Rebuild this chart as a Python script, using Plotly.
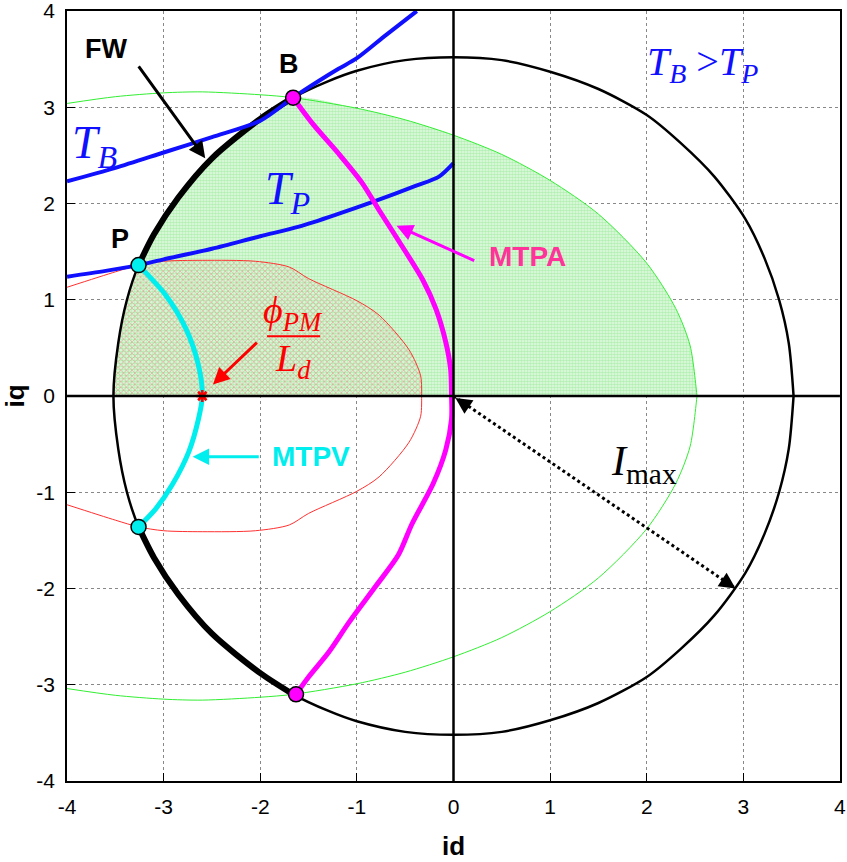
import plotly.graph_objects as go

# ---- data (id, iq in per-unit current) ----
# current-limit circle |I| = Imax, upper half from left to right
circle_id = [-3.52, -3.47, -3.38, -3.26, -3.10, -2.85, -2.50, -2.00, -1.66, -1.30, -1.00, -0.50,
             0.00, 0.50, 1.00, 1.50, 2.00, 2.35, 2.70, 3.02, 3.22, 3.37, 3.47, 3.52]
circle_iq = [0.00, 0.55, 1.00, 1.36, 1.68, 2.06, 2.47, 2.88, 3.10, 3.27, 3.38, 3.49,
             3.52, 3.49, 3.37, 3.19, 2.92, 2.63, 2.28, 1.84, 1.43, 1.00, 0.55, 0.00]

# voltage-limit ellipse at base speed (through B), upper half
volt_b_id = [-4.00, -3.50, -3.00, -2.60, -2.00, -1.66, -1.00, -0.50, 0.00, 0.50, 1.00, 1.50,
             2.00, 2.30, 2.45, 2.52]
volt_b_iq = [3.04, 3.11, 3.15, 3.16, 3.13, 3.10, 2.99, 2.87, 2.71, 2.51, 2.24, 1.89,
             1.38, 0.91, 0.52, 0.00]

# voltage-limit ellipse at the higher speed (through P), upper half
volt_p_id = [-4.00, -3.50, -3.26, -3.00, -2.60, -2.05, -1.70, -1.50, -1.00, -0.77, -0.46, -0.34, -0.33]
volt_p_iq = [1.13, 1.29, 1.36, 1.40, 1.41, 1.40, 1.34, 1.22, 0.99, 0.84, 0.48, 0.21, 0.00]

# constant-torque hyperbolas
tb_id = [-4.00, -3.50, -3.00, -2.50, -2.00, -1.66, -1.40, -1.19, -1.00, -0.70, -0.38]
tb_iq = [2.23, 2.37, 2.53, 2.69, 2.86, 3.10, 3.27, 3.40, 3.51, 3.75, 4.00]
tp_id = [-4.00, -3.60, -3.26, -3.00, -2.50, -2.00, -1.60, -1.20, -0.80, -0.40, -0.15, 0.00]
tp_iq = [1.24, 1.30, 1.36, 1.42, 1.53, 1.66, 1.76, 1.89, 2.03, 2.18, 2.28, 2.42]

# maximum torque per ampere (B -> origin -> lower limit)
mtpa_id = [-1.66, -1.45, -1.19, -0.95, -0.77, -0.56, -0.32, -0.18, -0.08, -0.03, -0.02, -0.02,
           -0.08, -0.21, -0.43, -0.57, -0.80, -1.08, -1.29, -1.50, -1.63]
mtpa_iq = [3.10, 2.82, 2.52, 2.22, 1.93, 1.60, 1.21, 0.90, 0.56, 0.28, 0.00, -0.24,
           -0.56, -0.91, -1.33, -1.65, -1.97, -2.35, -2.66, -2.92, -3.10]

# maximum torque per volt (P -> -phi/Ld -> lower limit)
mtpv_id = [-3.26, -2.98, -2.77, -2.64, -2.60, -2.64, -2.74, -2.91, -3.08, -3.26]
mtpv_iq = [1.36, 1.05, 0.70, 0.32, 0.00, -0.24, -0.58, -0.92, -1.17, -1.36]

# ellipse centre  -phi_PM / Ld
center_id = [-2.60]
center_iq = [0.00]

# end of the Imax radius arrow
imax_end = (2.92, -2.00)

tick_vals = [-4, -3, -2, -1, 0, 1, 2, 3, 4]
tick_text = ["-4", "-3", "-2", "-1", "0", "1", "2", "3", "4"]


def full_curve(xs, ys):
    """Close a symmetric curve given by its upper half."""
    return list(xs) + list(xs[::-1]), list(ys) + [-v for v in ys[::-1]]


P_ID, P_IQ = mtpv_id[0], mtpv_iq[0]
B_ID, B_IQ = mtpa_id[0], mtpa_iq[0]

# flux-weakening arc along the current limit between P and B
fw_idx = [i for i, x in enumerate(circle_id) if P_ID - 1e-6 <= x <= B_ID + 1e-6]
fw_id = [circle_id[i] for i in fw_idx]
fw_iq = [circle_iq[i] for i in fw_idx]

# shaded regions (iq >= 0)
g_id = [x for x in circle_id if x <= B_ID] + [x for x in volt_b_id if x > B_ID]
g_iq = [circle_iq[i] for i, x in enumerate(circle_id) if x <= B_ID] + \
       [volt_b_iq[i] for i, x in enumerate(volt_b_id) if x > B_ID]
r_id = [x for x in circle_id if x <= P_ID] + [x for x in volt_p_id if x > P_ID]
r_iq = [circle_iq[i] for i, x in enumerate(circle_id) if x <= P_ID] + \
       [volt_p_iq[i] for i, x in enumerate(volt_p_id) if x > P_ID]

SPL = dict(shape="spline", smoothing=0.8)

fig = go.Figure()

fig.add_trace(go.Scatter(
    x=g_id, y=g_iq, mode="lines", line=dict(width=0, **SPL), fill="toself",
    fillcolor="rgba(0,0,0,0)",
    fillpattern=dict(shape=".", fgcolor="#7fe47f", bgcolor="rgba(230,250,230,1)", size=3, solidity=0.6),
    hoverinfo="skip"))
fig.add_trace(go.Scatter(
    x=r_id, y=r_iq, mode="lines", line=dict(width=0, **SPL), fill="toself",
    fillcolor="rgba(0,0,0,0)",
    fillpattern=dict(shape="x", fgcolor="#ee8080", bgcolor="rgba(0,0,0,0)", size=4, solidity=0.4),
    hoverinfo="skip"))

vb_x, vb_y = full_curve(volt_b_id, volt_b_iq)
fig.add_trace(go.Scatter(x=vb_x, y=vb_y, mode="lines", line=dict(color="#33ee33", width=1, **SPL)))
vp_x, vp_y = full_curve(volt_p_id, volt_p_iq)
fig.add_trace(go.Scatter(x=vp_x, y=vp_y, mode="lines", line=dict(color="#ff3030", width=1, **SPL)))

c_x, c_y = full_curve(circle_id, circle_iq)
fig.add_trace(go.Scatter(x=c_x, y=c_y, mode="lines", line=dict(color="black", width=2.5, **SPL)))

fig.add_trace(go.Scatter(x=fw_id, y=fw_iq, mode="lines", line=dict(color="black", width=6, **SPL)))
fig.add_trace(go.Scatter(x=fw_id, y=[-v for v in fw_iq], mode="lines",
                         line=dict(color="black", width=6, **SPL)))

fig.add_trace(go.Scatter(x=tb_id, y=tb_iq, mode="lines", line=dict(color="#1010ff", width=4, **SPL)))
fig.add_trace(go.Scatter(x=tp_id, y=tp_iq, mode="lines", line=dict(color="#1010ff", width=4, **SPL)))

fig.add_trace(go.Scatter(x=mtpa_id, y=mtpa_iq, mode="lines",
                         line=dict(color="#ff00ff", width=5, **SPL)))
fig.add_trace(go.Scatter(x=mtpv_id, y=mtpv_iq, mode="lines",
                         line=dict(color="#00eeee", width=5, **SPL)))

fig.add_trace(go.Scatter(x=[0, imax_end[0]], y=[0, imax_end[1]], mode="lines",
                         line=dict(color="black", width=3, dash="dot")))

fig.add_trace(go.Scatter(
    x=[mtpa_id[0], mtpa_id[-1]], y=[mtpa_iq[0], mtpa_iq[-1]], mode="markers",
    marker=dict(color="#ff00ff", size=15, line=dict(color="black", width=1.5))))
fig.add_trace(go.Scatter(
    x=[mtpv_id[0], mtpv_id[-1]], y=[mtpv_iq[0], mtpv_iq[-1]], mode="markers",
    marker=dict(color="#00eeee", size=15, line=dict(color="black", width=1.5))))
fig.add_trace(go.Scatter(
    x=center_id, y=center_iq, mode="markers",
    marker=dict(symbol="asterisk", size=10, line=dict(color="red", width=2.5), color="red")))

sans = "Liberation Sans, Arial, sans-serif"
serif = "Liberation Serif, Times New Roman, serif"

anns = []


def label(x, y, text, size, color, family=sans):
    anns.append(dict(x=x, y=y, xref="x", yref="y", text=text, showarrow=False,
                     font=dict(family=family, size=size, color=color)))


def arrow(x, y, ax, ay, color, width=3, head=2, size=1.0):
    anns.append(dict(x=x, y=y, ax=ax, ay=ay, xref="x", yref="y", axref="x", ayref="y",
                     text="", showarrow=True, arrowhead=head, arrowsize=size,
                     arrowwidth=width, arrowcolor=color))


label(-3.60, 3.61, "<b>FW</b>", 27, "black")
arrow(-2.57, 2.47, -3.27, 3.44, "black", width=3, size=1.1)
label(-1.70, 3.45, "<b>B</b>", 27, "black")
label(-3.45, 1.63, "<b>P</b>", 27, "black")

label(-3.72, 2.60, "<i>T</i><sub><i>B</i></sub>", 46, "#1010ff", serif)
label(-1.72, 2.12, "<i>T</i><sub><i>P</i></sub>", 46, "#1010ff", serif)
label(2.58, 3.45, "<i>T</i><sub><i>B</i></sub> ><i>T</i><sub><i>P</i></sub>", 40, "#1010ff", serif)

label(0.77, 1.45, "<b>MTPA</b>", 28, "#ff3399")
arrow(-0.59, 1.77, 0.23, 1.40, "#ff00ff", width=3, size=1.1)

label(-1.47, -0.63, "<b>MTPV</b>", 28, "#00eeee")
arrow(-2.70, -0.63, -2.00, -0.63, "#00eeee", width=3, size=1.1)

label(-1.66, 0.86, "<i>ϕ</i><sub><i>PM</i></sub>", 38, "red", serif)
label(-1.66, 0.36, "<i>L</i><sub><i>d</i></sub>", 38, "red", serif)
arrow(-2.49, 0.12, -2.02, 0.57, "red", width=3, size=1.1)

label(1.97, -0.71, "<i>I</i><sub>max</sub>", 42, "black", serif)

# arrowheads of the Imax radius
anns.append(dict(x=imax_end[0], y=imax_end[1], ax=-15, ay=-10, xref="x", yref="y",
                 text="", showarrow=True, arrowhead=2, arrowsize=1.3, arrowwidth=2.5,
                 arrowcolor="black"))
anns.append(dict(x=0.02, y=-0.02, ax=15, ay=10, xref="x", yref="y",
                 text="", showarrow=True, arrowhead=2, arrowsize=1.3, arrowwidth=2.5,
                 arrowcolor="black"))

shapes = [
    # fraction bar of phi_PM / Ld
    dict(type="line", xref="x", yref="y", x0=-1.93, x1=-1.38, y0=0.62, y1=0.62,
         line=dict(color="red", width=2)),
    # coordinate axes through the origin
    dict(type="line", xref="x", yref="y", x0=-4, x1=4, y0=0, y1=0,
         line=dict(color="black", width=2.5), layer="above"),
    dict(type="line", xref="x", yref="y", x0=0, x1=0, y0=-4, y1=4,
         line=dict(color="black", width=2.5), layer="above"),
]

axis_common = dict(
    range=[-4.0005, 4.0005], tickvals=tick_vals, ticktext=tick_text, showgrid=True,
    gridcolor="#888888", griddash="dot", gridwidth=1, zeroline=False,
    showline=True, linecolor="black", linewidth=1.5, mirror=True,
    ticks="inside", ticklen=8, tickcolor="black", tickwidth=1,
    tickfont=dict(family=sans, size=21, color="black"), ticklabelstandoff=6,
    ticklabeloverflow="allow", automargin=False,
)

fig.update_layout(
    width=847, height=862,
    margin=dict(l=67, r=7, t=11, b=81),
    paper_bgcolor="white", plot_bgcolor="white",
    showlegend=False,
    annotations=anns, shapes=shapes,
    xaxis=dict(**axis_common, title=dict(text="<b>id</b>", standoff=20,
                                         font=dict(family=sans, size=26, color="black"))),
    yaxis=dict(**axis_common, title=dict(text="<b>iq</b>", standoff=10,
                                         font=dict(family=sans, size=26, color="black"))),
)

fig.write_html("out.html")
